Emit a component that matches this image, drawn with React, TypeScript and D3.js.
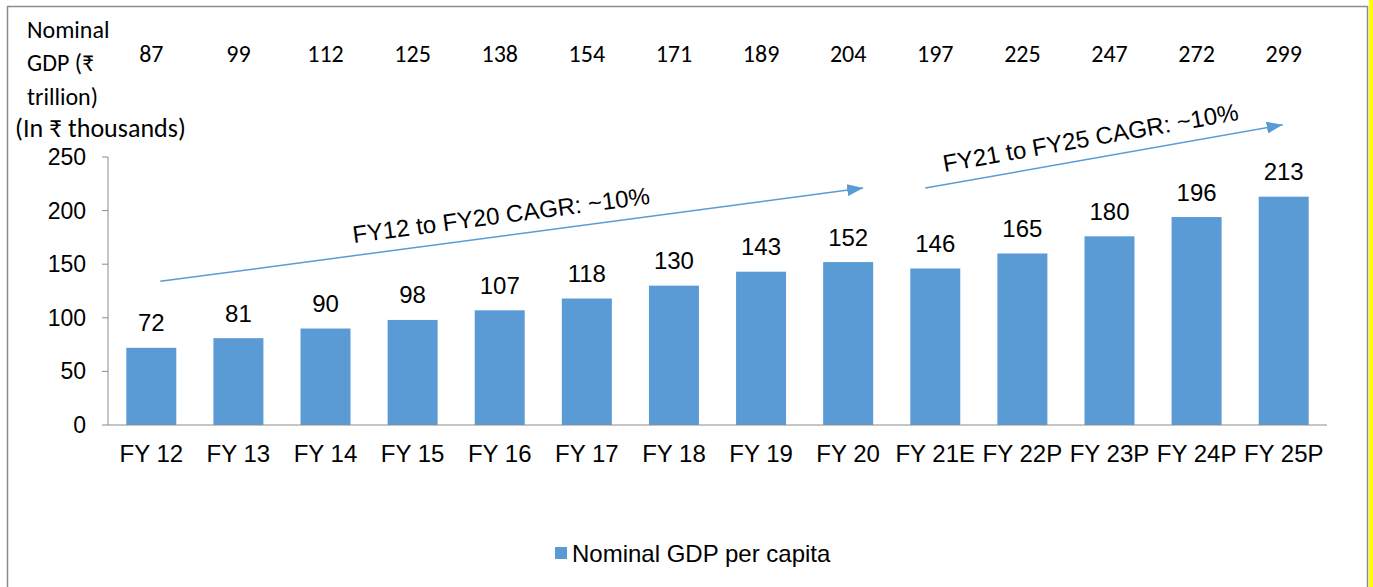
import * as d3 from 'd3';

// categories and values
const categories = ['FY 12', 'FY 13', 'FY 14', 'FY 15', 'FY 16', 'FY 17', 'FY 18', 'FY 19', 'FY 20', 'FY 21E', 'FY 22P', 'FY 23P', 'FY 24P', 'FY 25P'];
const perCapita = [72, 81, 90, 98, 107, 118, 130, 143, 152, 146, 160, 176, 194, 213]; // bar heights as drawn
const perCapitaLabels = ['72', '81', '90', '98', '107', '118', '130', '143', '152', '146', '165', '180', '196', '213'];
const nominalGdp = [87, 99, 112, 125, 138, 154, 171, 189, 204, 197, 225, 247, 272, 299];
const yTicks = [0, 50, 100, 150, 200, 250];

// CAGR arrows anchored on categories / values
const cagrArrows = [
  { text: 'FY12 to FY20 CAGR: ~10%', from: ['FY 12', 134], to: ['FY 20', 221], dxFrom: 9, dxTo: 15, along: -8 },
  { text: 'FY21 to FY25 CAGR: ~10%', from: ['FY 21E', 221], to: ['FY 25P', 280], dxFrom: -10, dxTo: -1, along: -10 },
];

const W = 1373;
const H = 587;
const BLUE = '#5b9bd5';
const ARIAL = '"Liberation Sans", Arial, sans-serif';
const CAL = 'Carlito, Lato, "Noto Sans", sans-serif';

export default function App() {
  const x = d3.scaleBand<string>()
    .domain(categories)
    .range([108, 1327])
    .paddingInner(0.426)
    .paddingOuter(0.21);

  const y = d3.scaleLinear().domain([0, 250]).range([425, 157]);
  const cx = (c: string) => (x(c) ?? 0) + x.bandwidth() / 2;

  return (
    <svg width={W} height={H} style={{ position: 'absolute', left: 0, top: 0, background: '#fff' }}>
      <defs>
        <marker id="tri" viewBox="0 0 16 12" refX="16" refY="6" markerWidth="16" markerHeight="12" markerUnits="userSpaceOnUse" orient="auto">
          <path d="M0,0 L16,6 L0,12 z" fill={BLUE} />
        </marker>
      </defs>
      {/* frame */}
      <path d={`M7.5,${H} L7.5,6.5 L1367.5,6.5 L1367.5,${H}`} fill="none" stroke="#8c8c8c" strokeWidth={1.5} />
      <rect x={1369} y={0} width={4} height={H} fill="#ffff00" />

      {/* left header text */}
      <g fontFamily={CAL} fontSize={24} fill="#000">
        <text x={27} y={38}>Nominal</text>
        <text x={27} y={71}>GDP (₹</text>
        <text x={27} y={105}>trillion)</text>
        <text x={15} y={137} fontSize={26}>(In ₹ thousands)</text>
      </g>

      {/* nominal GDP row */}
      <g fontFamily={CAL} fontSize={24} fill="#000" textAnchor="middle">
        {categories.map((c, i) => (
          <text key={c} x={cx(c)} y={62}>{nominalGdp[i]}</text>
        ))}
      </g>

      {/* y axis */}
      <line x1={108} x2={108} y1={y(250)} y2={y(0)} stroke="#8c8c8c" strokeWidth={1} />
      {yTicks.map(t => (
        <g key={t}>
          <line x1={102} x2={108} y1={y(t)} y2={y(t)} stroke="#8c8c8c" />
          <text x={86} y={y(t) + 8} textAnchor="end" fontFamily={ARIAL} fontSize={23}>{t}</text>
        </g>
      ))}

      {/* bars */}
      {categories.map((c, i) => (
        <rect key={c} x={x(c)} y={y(perCapita[i])} width={x.bandwidth()} height={y(0) - y(perCapita[i])} fill={BLUE} />
      ))}
      <line x1={108} x2={1327} y1={y(0)} y2={y(0)} stroke="#8c8c8c" strokeWidth={1} />

      {/* bar labels */}
      <g fontFamily={ARIAL} fontSize={24} textAnchor="middle">
        {categories.map((c, i) => (
          <text key={c} x={cx(c)} y={y(perCapita[i]) - 16.5}>{perCapitaLabels[i]}</text>
        ))}
      </g>

      {/* category labels */}
      <g fontFamily={ARIAL} fontSize={24} textAnchor="middle">
        {categories.map(c => (
          <text key={c} x={cx(c)} y={461.5}>{c}</text>
        ))}
      </g>

      {/* CAGR arrows */}
      {cagrArrows.map(a => {
        const x1 = cx(a.from[0] as string) + a.dxFrom;
        const y1 = y(a.from[1] as number);
        const x2 = cx(a.to[0] as string) + a.dxTo;
        const y2 = y(a.to[1] as number);
        const ang = (Math.atan2(y2 - y1, x2 - x1) * 180) / Math.PI;
        const mx = (x1 + x2) / 2;
        const my = (y1 + y2) / 2;
        return (
          <g key={a.text}>
            <line x1={x1} y1={y1} x2={x2} y2={y2} stroke={BLUE} strokeWidth={1.5} markerEnd="url(#tri)" />
            <text
              transform={`translate(${mx},${my}) rotate(${ang}) translate(${a.along},-12.5)`}
              textAnchor="middle"
              fontFamily={ARIAL}
              fontSize={24}
            >{a.text}</text>
          </g>
        );
      })}

      {/* legend */}
      <rect x={555} y={547} width={12} height={12} fill={BLUE} />
      <text x={572} y={561.5} fontFamily={ARIAL} fontSize={24}>Nominal GDP per capita</text>
    </svg>
  );
}
